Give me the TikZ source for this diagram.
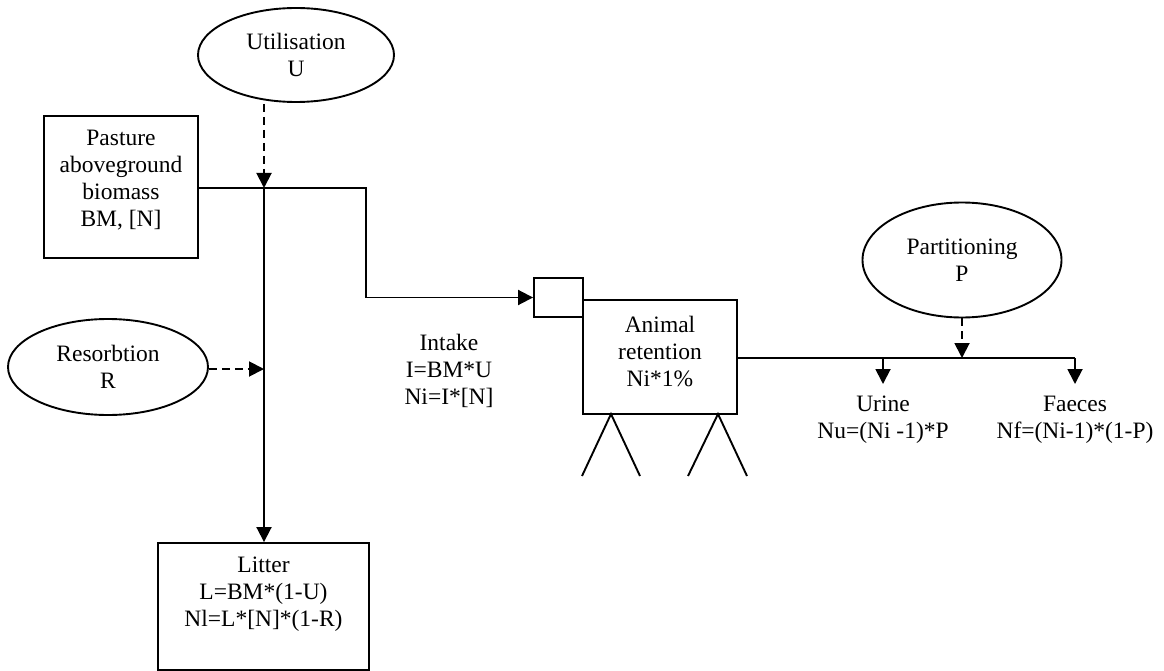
\documentclass[tikz,border=0pt]{standalone}
\usepackage{fontspec}
\setmainfont{Liberation Serif}
\usetikzlibrary{arrows.meta,shapes.geometric}
\begin{document}
\begin{tikzpicture}[x=1pt,y=-1pt,
  line width=1.9pt,
  every node/.style={font=\fontsize{23.5}{27}\selectfont, align=center, inner sep=0pt},
  boxshape/.style={draw, rectangle, line width=1.9pt},
  ellshape/.style={draw, ellipse, line width=1.9pt},
  flow/.style={-{Triangle[length=15pt,width=15pt]}},
  ctrl/.style={-{Triangle[length=15pt,width=15pt]}, dash pattern=on 8pt off 5pt}]
\useasboundingbox (0,0) rectangle (1164,671);
% nodes
\node[ellshape, minimum width=196pt, minimum height=94pt] (U) at (296,55) {Utilisation\\U};
\node[boxshape, minimum width=154pt, minimum height=142pt] (BM) at (121,187) {};
\node (BMt) at (121,180) {Pasture\\aboveground\\biomass\\BM, [N]};
\node[ellshape, minimum width=200pt, minimum height=96pt] (R) at (108,367) {Resorbtion\\R};
\node[boxshape, minimum width=211pt, minimum height=127pt] (L) at (263.5,606.5) {};
\node (Lt) at (263.5,594) {Litter\\L=BM*(1-U)\\Nl=L*[N]*(1-R)};
\node[boxshape, minimum width=49pt, minimum height=39pt] (S) at (558.5,297.5) {};
\node[boxshape, minimum width=154pt, minimum height=114pt] (A) at (660,357) {};
\node (At) at (660,351) {Animal\\retention\\Ni*1\%};
\node (I) at (449,371) {Intake\\I=BM*U\\Ni=I*[N]};
\node[ellshape, minimum width=199pt, minimum height=115pt] (P) at (962,260) {Partitioning\\P};
\node (Ur) at (883,420) {Urine\\Nu=(Ni -1)*P};
\node (F) at (1075,420) {Faeces\\Nf=(Ni-1)*(1-P)};
% coordinates
\coordinate (j1) at (264,188);
\coordinate (c1) at (366,188);
\coordinate (c2) at (366,297.5);
\coordinate (ut) at (264,104);
\coordinate (rj) at (264,369);
\coordinate (ao) at (737,358);
\coordinate (pj) at (962,358);
\coordinate (uj) at (883,358);
\coordinate (fj) at (1075,358);
\coordinate (ue) at (883,384);
\coordinate (fe) at (1075,384);
% connectors
\draw (BM.east |- j1) -- (c1) -- (c2);
\draw[flow] (c2) -- (S.west);
\draw[ctrl] (ut) -- (j1);
\draw[flow] (j1) -- (L.north -| j1);
\draw[ctrl] (R.east |- rj) -- (rj);
\draw (ao) -- (fj);
\draw[flow] (uj) -- (ue);
\draw[flow] (fj) -- (fe);
\draw[ctrl] (P.south -| pj) -- (pj);
% legs
\draw (582,476) -- (611,414) -- (640,476);
\draw (688,476) -- (718,414) -- (747,476);
\end{tikzpicture}
\end{document}
